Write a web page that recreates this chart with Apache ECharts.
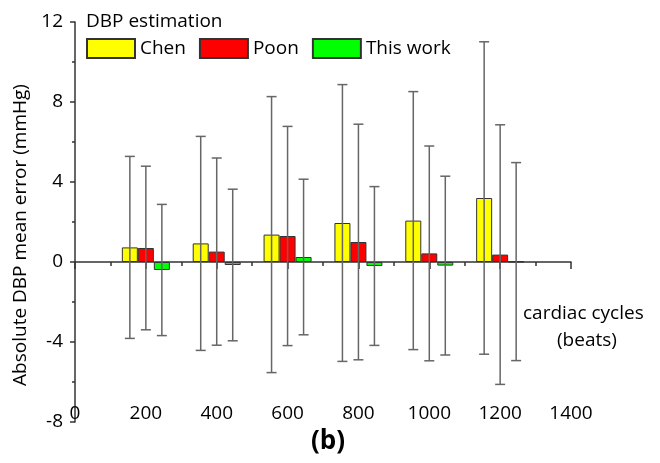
<!DOCTYPE html>
<html>
<head>
<meta charset="utf-8">
<title>DBP estimation</title>
<script src="https://cdn.jsdelivr.net/npm/echarts@6/dist/echarts.min.js"></script>
<style>
  html, body { margin: 0; padding: 0; background: #fff; }
  #chart { width: 660px; height: 463px; }
</style>
</head>
<body>
<div id="chart"></div>
<script>
// 数据
const cycles = [200, 400, 600, 800, 1000, 1200];
const methods = ['Chen', 'Poon', 'This work'];
const colors = ['#ffff00', '#ff0000', '#00ff00'];

// mean error (mmHg)
const chenMean = [0.73, 0.93, 1.37, 1.95, 2.07, 3.2];
const poonMean = [0.7, 0.52, 1.3, 1.0, 0.43, 0.37];
const thisMean = [-0.4, -0.15, 0.25, -0.2, -0.18, 0.02];

// standard deviation (error bar half-length)
const chenSd = [4.55, 5.35, 6.9, 6.92, 6.45, 7.81];
const poonSd = [4.09, 4.68, 5.48, 5.89, 5.37, 6.49];
const thisSd = [3.28, 3.79, 3.89, 3.97, 4.47, 4.95];

const yTicks = { min: -8, max: 12, interval: 4 };
const xTicks = { min: 0, max: 1400, interval: 200 };

const FONT = '"Open Sans", "Noto Sans", sans-serif';
const BAR_W = 16;

const means = [chenMean, poonMean, thisMean];
const sds = [chenSd, poonSd, thisSd];

// 柱子
const barSeries = methods.map((name, i) => ({
  type: 'bar',
  name,
  xAxisIndex: 1,
  barWidth: BAR_W,
  barGap: '0%',
  data: cycles.map((c, j) => [c, means[i][j]]),
  itemStyle: { color: colors[i], borderColor: '#333', borderWidth: 1 },
  z: 2
}));

// 误差线
const errSeries = methods.map((name, i) => ({
  type: 'custom',
  name: name + ' SD',
  xAxisIndex: 1,
  z: 5,
  data: cycles.map((c, j) => [c, means[i][j] - sds[i][j], means[i][j] + sds[i][j]]),
  renderItem(params, api) {
    const dx = (i - 1) * BAR_W;
    const lo = api.coord([api.value(0), api.value(1)]);
    const hi = api.coord([api.value(0), api.value(2)]);
    const x = lo[0] + dx;
    const half = 5;
    const style = { stroke: '#666', lineWidth: 1.5 };
    return {
      type: 'group',
      children: [
        { type: 'line', shape: { x1: x, y1: hi[1], x2: x, y2: lo[1] }, style },
        { type: 'line', shape: { x1: x - half, y1: hi[1], x2: x + half, y2: hi[1] }, style },
        { type: 'line', shape: { x1: x - half, y1: lo[1], x2: x + half, y2: lo[1] }, style }
      ]
    };
  }
}));

const option = {
  animation: false,
  textStyle: { fontFamily: FONT },
  grid: { left: 75, right: 89, top: 22, bottom: 41 },
  legend: {
    data: methods,
    left: 86,
    top: 38,
    padding: 0,
    itemWidth: 48,
    itemHeight: 19,
    itemGap: 13,
    icon: 'rect',
    textStyle: { fontSize: 19, color: '#000', fontFamily: FONT }
  },
  xAxis: [
    {
      // 底部标签
      type: 'value',
      min: xTicks.min,
      max: xTicks.max,
      interval: xTicks.interval,
      position: 'bottom',
      offset: -18,
      axisLine: { show: false, onZero: false },
      axisTick: { show: false },
      splitLine: { show: false },
      axisLabel: {
        fontSize: 19, color: '#000', margin: 0, fontFamily: FONT,
        formatter: (v) => String(v)
      }
    },
    {
      // 零线
      type: 'value',
      min: xTicks.min,
      max: xTicks.max,
      interval: xTicks.interval,
      position: 'top',
      axisLine: { show: true, onZero: true, lineStyle: { color: '#333', width: 1.5 } },
      axisTick: { show: true, inside: true, length: 7, lineStyle: { color: '#333', width: 1.5 } },
      minorTick: { show: true, splitNumber: 2, length: 4, lineStyle: { color: '#333', width: 1.5 } },
      axisLabel: { show: false },
      splitLine: { show: false }
    }
  ],
  yAxis: {
    type: 'value',
    min: yTicks.min,
    max: yTicks.max,
    interval: yTicks.interval,
    name: 'Absolute DBP mean error (mmHg)',
    nameLocation: 'middle',
    nameGap: 43,
    nameTextStyle: { fontSize: 19, color: '#000', fontFamily: FONT, padding: [0, 26, 0, 0] },
    axisLine: { show: true, onZero: false, lineStyle: { color: '#333', width: 1.5 } },
    axisTick: { show: true, length: 5, lineStyle: { color: '#333', width: 1.5 } },
    minorTick: { show: true, splitNumber: 2, length: 3, lineStyle: { color: '#333', width: 1.5 } },
    axisLabel: { fontSize: 19, color: '#000', margin: 12, fontFamily: FONT },
    splitLine: { show: false }
  },
  graphic: [
    {
      type: 'text', left: 86, top: 12,
      style: { text: 'DBP estimation', fontSize: 19, fill: '#000', fontFamily: FONT }
    },
    {
      type: 'text', left: 523, top: 304,
      style: { text: 'cardiac cycles', fontSize: 19, fill: '#000', fontFamily: FONT }
    },
    {
      type: 'text', left: 557, top: 331,
      style: { text: '(beats)', fontSize: 19, fill: '#000', fontFamily: FONT }
    },
    {
      type: 'text', left: 311, top: 429,
      style: { text: '(b)', fontSize: 26, fontWeight: 'bold', fill: '#000', fontFamily: FONT }
    }
  ],
  series: [...barSeries, ...errSeries]
};

const myChart = echarts.init(document.getElementById('chart'));
myChart.setOption(option);
</script>
</body>
</html>
